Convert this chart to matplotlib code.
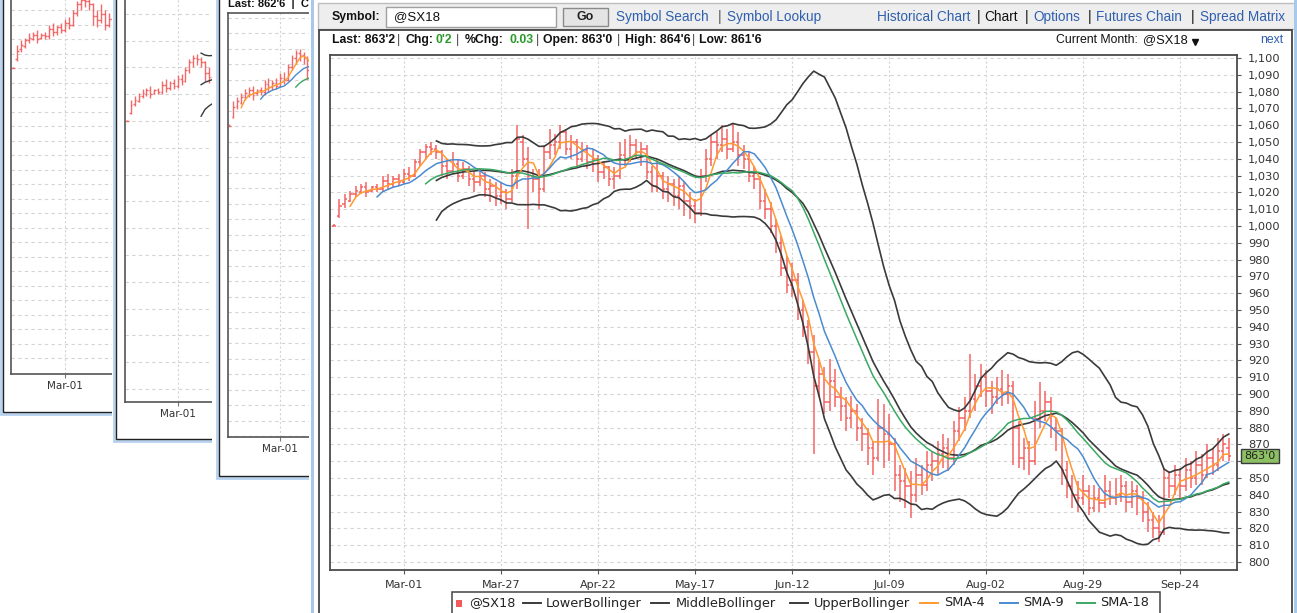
import matplotlib
matplotlib.use("Agg")
import matplotlib.pyplot as plt
from matplotlib.patches import Rectangle, Circle
import numpy as np
import pandas as pd

# ---------------- data ----------------
tick_labels = ["Mar-01", "Mar-27", "Apr-22", "May-17", "Jun-12",
               "Jul-09", "Aug-02", "Aug-29", "Sep-24"]
tick_bars = [13, 31, 49, 67, 85, 103, 121, 139, 157]

opens = [
    1000, 1006, 1013, 1015, 1019, 1020, 1023, 1021, 1023, 1022,
    1027, 1025, 1028, 1026, 1031, 1030, 1038, 1044, 1047, 1046,
    1044, 1036, 1033, 1037, 1030, 1034, 1028, 1026, 1030, 1022,
    1024, 1018, 1020, 1016, 1030, 1050, 1040, 1030, 1028, 1022,
    1044, 1048, 1050, 1056, 1046, 1050, 1040, 1045, 1038, 1040,
    1032, 1035, 1028, 1030, 1042, 1040, 1048, 1044, 1046, 1032,
    1024, 1030, 1022, 1025, 1018, 1024, 1015, 1012, 1008, 1030,
    1040, 1050, 1048, 1052, 1046, 1050, 1042, 1040, 1030, 1028,
    1015, 1010, 1000, 990, 975, 965, 968, 950, 940, 925,
    905, 912, 895, 908, 898, 893, 886, 890, 880, 876,
    868, 862, 880, 876, 870, 852, 848, 845, 840, 852,
    846, 858, 860, 864, 868, 862, 878, 886, 890, 897,
    905, 910, 902, 898, 903, 900, 905, 880, 862, 868,
    860, 885, 890, 895, 880, 878, 855, 845, 840, 838,
    842, 832, 838, 835, 842, 838, 840, 845, 836, 842,
    838, 830, 825, 820, 818, 850, 845, 852, 845, 855,
    850, 858, 852, 862, 858, 866, 868]
highs = [
    1001, 1016, 1019, 1021, 1024, 1025, 1026, 1024, 1025, 1030,
    1031, 1030, 1031, 1034, 1035, 1040, 1046, 1049, 1050, 1048,
    1045, 1040, 1044, 1040, 1038, 1036, 1032, 1034, 1032, 1028,
    1026, 1026, 1022, 1034, 1060, 1054, 1047, 1034, 1034, 1048,
    1058, 1055, 1060, 1058, 1054, 1052, 1050, 1048, 1046, 1042,
    1038, 1036, 1035, 1050, 1052, 1054, 1052, 1050, 1048, 1036,
    1040, 1032, 1030, 1028, 1030, 1026, 1020, 1016, 1034, 1046,
    1054, 1056, 1060, 1058, 1061, 1056, 1048, 1044, 1036, 1030,
    1022, 1014, 1004, 994, 982, 978, 972, 956, 944, 935,
    920, 916, 921, 915, 904, 898, 899, 894, 886, 880,
    872, 897, 894, 888, 874, 858, 856, 854, 862, 858,
    866, 866, 872, 876, 874, 884, 892, 898, 924, 912,
    918, 914, 908, 910, 914, 912, 908, 884, 874, 872,
    896, 907, 902, 898, 886, 880, 860, 852, 848, 852,
    846, 846, 844, 852, 848, 850, 852, 848, 848, 846,
    842, 836, 830, 828, 856, 854, 858, 856, 862, 860,
    866, 864, 870, 868, 874, 876, 874]
lows = [
    1000, 1005, 1011, 1014, 1017, 1019, 1017, 1020, 1020, 1020,
    1022, 1023, 1024, 1025, 1027, 1029, 1036, 1040, 1042, 1040,
    1030, 1028, 1031, 1026, 1028, 1024, 1020, 1024, 1017, 1014,
    1012, 1013, 1010, 1014, 1022, 1036, 998, 1020, 1010, 1020,
    1040, 1042, 1046, 1042, 1040, 1036, 1038, 1034, 1032, 1026,
    1028, 1024, 1022, 1028, 1036, 1038, 1040, 1036, 1028, 1020,
    1020, 1016, 1014, 1012, 1010, 1006, 1004, 1002, 1006, 1026,
    1036, 1040, 1044, 1040, 1044, 1036, 1034, 1026, 1022, 1010,
    1004, 996, 984, 970, 960, 958, 944, 934, 918, 864,
    898, 888, 890, 892, 884, 878, 880, 872, 866, 858,
    852, 860, 856, 860, 842, 836, 832, 826, 836, 840,
    842, 848, 852, 856, 854, 858, 872, 878, 886, 890,
    898, 892, 888, 894, 893, 894, 858, 856, 855, 852,
    858, 880, 884, 874, 866, 846, 838, 832, 830, 834,
    828, 830, 830, 832, 834, 834, 836, 830, 832, 828,
    824, 818, 814, 812, 816, 838, 840, 838, 842, 844,
    846, 846, 850, 852, 854, 860, 860]
closes = [
    1000, 1012, 1016, 1019, 1021, 1023, 1020, 1023, 1022, 1027,
    1025, 1028, 1026, 1031, 1030, 1038, 1044, 1047, 1046, 1044,
    1036, 1033, 1037, 1030, 1034, 1028, 1026, 1030, 1022, 1024,
    1018, 1020, 1016, 1030, 1052, 1040, 1030, 1028, 1022, 1044,
    1048, 1050, 1056, 1046, 1050, 1040, 1045, 1038, 1040, 1032,
    1035, 1028, 1030, 1042, 1040, 1048, 1044, 1046, 1032, 1024,
    1030, 1022, 1025, 1018, 1024, 1015, 1012, 1008, 1030, 1040,
    1050, 1048, 1052, 1046, 1050, 1042, 1040, 1030, 1028, 1015,
    1010, 1000, 990, 975, 965, 968, 950, 940, 925, 905,
    912, 895, 908, 898, 893, 886, 890, 880, 876, 868,
    862, 880, 876, 870, 852, 848, 845, 840, 852, 846,
    858, 860, 864, 868, 862, 878, 886, 890, 897, 905,
    910, 902, 898, 903, 900, 905, 880, 862, 868, 860,
    885, 890, 895, 880, 878, 855, 845, 840, 838, 842,
    832, 838, 835, 842, 838, 840, 845, 836, 842, 838,
    830, 825, 820, 818, 850, 845, 852, 845, 855, 850,
    858, 852, 862, 858, 866, 870, 863]

last_price_label = "863'0"
last_price_value = 863
sma_periods = [4, 9, 18]
boll_period = 20

# ---------------- indicators ----------------
O = np.array(opens, float); Hh = np.array(highs, float)
L = np.array(lows, float); C = np.array(closes, float)
idx = np.arange(len(C))
cs = pd.Series(C)
sma = {p: cs.rolling(p).mean().values for p in sma_periods}
mid = cs.rolling(boll_period).mean()
sd = cs.rolling(boll_period).std(ddof=0)
upper = (mid + 2 * sd).values
lower = (mid - 2 * sd).values
mid = mid.values

BAR = "#f35a5a"
BOLL = "#3a3a3a"
COL = {4: "#ff9a30", 9: "#4a8bd0", 18: "#3aa862"}
GRID = "#d4d4d4"
LINK = "#2f5fae"

W, Hpx = 1297, 613
fig = plt.figure(figsize=(W / 100, Hpx / 100), dpi=100)
fig.patch.set_facecolor("white")


def fbox(x0, y0, x1, y1):
    return [x0 / W, 1 - y1 / Hpx, (x1 - x0) / W, (y1 - y0) / Hpx]


def make_panel(x0, y0, x1, y1, z):
    a = fig.add_axes(fbox(x0, y0, x1, y1), zorder=z)
    a.set_xlim(x0, x1)
    a.set_ylim(y1, y0)
    a.set_xticks([]); a.set_yticks([])
    for s in a.spines.values():
        s.set_visible(False)
    a.set_facecolor("white")
    return a


def draw_bars(ax, n, tick=0.42, lw=1.1):
    i = idx[:n]
    ax.vlines(i, L[:n], Hh[:n], color=BAR, lw=lw, alpha=0.9)
    ax.hlines(O[:n], i - tick, i, color=BAR, lw=lw, alpha=0.9)
    ax.hlines(C[:n], i, i + tick, color=BAR, lw=lw, alpha=0.9)


def bg_chart(l, t, r, b, x0px, pxbar, y0px, pxunit, z, nbars, gstep,
             lines, top_spine=False):
    ax = fig.add_axes(fbox(l, t, r, b), zorder=z)
    ax.set_xlim((l - x0px) / pxbar, (r - x0px) / pxbar)
    vlo = 1000 - (b - y0px) / pxunit
    vhi = 1000 + (y0px - t) / pxunit
    ax.set_ylim(vlo, vhi)
    ax.set_facecolor("white")
    ax.spines["right"].set_visible(False)
    ax.spines["top"].set_visible(top_spine)
    for s in ["left", "bottom", "top"]:
        ax.spines[s].set_color("#555555")
        ax.spines[s].set_linewidth(1.2)
    for v in np.arange(800, 1100, gstep):
        ax.axhline(v, color=GRID, lw=0.8, ls=(0, (3, 3)), zorder=0)
    for tb in tick_bars:
        ax.axvline(tb, color=GRID, lw=0.8, ls=(0, (2, 2)), zorder=0)
    draw_bars(ax, nbars, tick=0.4, lw=1.0)
    if lines == "boll":
        for arr in (upper, mid, lower):
            ax.plot(idx[:nbars], arr[:nbars], color=BOLL, lw=1.0)
    elif lines == "sma":
        for p in sma_periods:
            ax.plot(idx[:nbars], sma[p][:nbars], color=COL[p], lw=1.0)
    ax.set_xticks(tick_bars[:1])
    ax.set_xticklabels(tick_labels[:1], fontsize=7.5, color="#333333",
                       family="DejaVu Sans")
    ax.tick_params(axis="x", length=3, pad=2, color="#777777")
    ax.set_yticks([])
    return ax


def frame(p, left, bottom):
    p.add_patch(Rectangle((left - 2, -20), 1400, bottom + 22, fill=False,
                          ec="#b7d1ee", lw=2.0))
    p.add_patch(Rectangle((left, -20), 1400, bottom + 20, fill=False,
                          ec="#222222", lw=1.0))


# ---------------- background windows ----------------
p1 = make_panel(0, 0, 140, 418, 1)
frame(p1, 3, 412)
bg_chart(11, -60, 300, 374, 13, 4.0, 68, 1.45, 2, 26, 10, None)

p2 = make_panel(112, 0, 240, 444, 3)
frame(p2, 116, 439)
p2.add_patch(Circle((141, -4), 10, fill=False, ec="#f4c3b4", lw=2))
bg_chart(125, -60, 400, 402, 127, 3.9, 121, 1.34, 4, 24, 20, "boll")

p3 = make_panel(212, 0, 330, 481, 5)
frame(p3, 219, 476)
p3.text(228, 4, "Last: 862'6  |  Chg", fontsize=8, fontweight="bold",
        family="Liberation Sans", va="center", ha="left", color="#111111")
a3 = bg_chart(228, 13, 500, 437, 229.5, 3.9, 126, 1.55, 6, 23, 10, "sma",
              top_spine=True)

# ---------------- main window ----------------
pm = make_panel(309, 0, W, Hpx, 7)
pm.add_patch(Rectangle((310.5, -2), 3.5, 620, color="#a9c9ea", lw=0))
pm.add_patch(Rectangle((318, 3), 980, 26, fc="#eeeeee", ec="#bdbdbd", lw=1))
pm.add_patch(Rectangle((319, 29.5), 973, 600, fc="white", ec="#444444", lw=1.3))
pm.add_patch(Rectangle((1293.5, -2), 4, 620, color="#a9c9ea", lw=0))

tf = dict(family="Liberation Sans", va="center", ha="left")
pm.text(332, 17, "Symbol:", fontsize=8.8, fontweight="bold", color="#111111", **tf)
pm.add_patch(Rectangle((386, 7), 170, 20, fc="white", ec="#a0a0a0", lw=1))
pm.text(394, 17, "@SX18", fontsize=9.5, color="#111111", **tf)
pm.add_patch(Rectangle((563, 8), 45, 18, fc="#e4e4e4", ec="#8a8a8a", lw=1))
pm.text(585.5, 17, "Go", fontsize=9, fontweight="bold", color="#222222",
        family="Liberation Sans", va="center", ha="center")
links = [("Symbol Search", 616, LINK), ("|", 718, "#555555"),
         ("Symbol Lookup", 727, LINK), ("Historical Chart", 877, LINK),
         ("|", 977, "#111111"), ("Chart", 984, "#111111"),
         ("|", 1025, "#111111"), ("Options", 1033, LINK),
         ("|", 1088, "#111111"), ("Futures Chain", 1096, LINK),
         ("|", 1191, "#111111"), ("Spread Matrix", 1200, LINK)]
for t, x, c in links:
    pm.text(x, 17, t, fontsize=9.8, color=c, **tf)

info = [("Last: 863'2", 332, "#111111", "bold"), ("|", 397, "#444444", "normal"),
        ("Chg:", 406, "#111111", "bold"), ("0'2", 435, "#2a9a2a", "bold"),
        ("|", 456, "#444444", "normal"), ("%Chg:", 465, "#111111", "bold"),
        ("0.03", 509, "#2a9a2a", "bold"), ("|", 536, "#444444", "normal"),
        ("Open: 863'0", 543, "#111111", "bold"), ("|", 617, "#444444", "normal"),
        ("High: 864'6", 625, "#111111", "bold"), ("|", 692, "#444444", "normal"),
        ("Low: 861'6", 699, "#111111", "bold")]
for t, x, c, w in info:
    pm.text(x, 40, t, fontsize=8.8, color=c, fontweight=w, **tf)
pm.text(1056, 40, "Current Month:", fontsize=8.8, color="#111111", **tf)
pm.text(1143, 40, "@SX18", fontsize=9.3, color="#111111", **tf)
pm.plot([1195], [42], marker="v", ms=5, color="#111111")
pm.text(1260, 40, "next", fontsize=8.8, color=LINK, **tf)

# dtn logo
pm.add_patch(Circle((352, 72), 13, fill=False, ec="#f6c2b2", lw=2.2))
pm.text(352, 72, "dtn", fontsize=8, color="#f2a890", ha="center", va="center",
        family="DejaVu Sans", fontweight="bold")

# last price box
ylast = 226 - (last_price_value - 1000) * 1.68
pm.add_patch(Rectangle((1241, ylast - 7), 38, 14, fc="#8cc063", ec="#3a3a3a", lw=1))
pm.text(1260, ylast, last_price_label, fontsize=8, ha="center", va="center",
        color="#222222", family="DejaVu Sans")

# legend
pm.add_patch(Rectangle((452, 592), 708, 30, fc="white", ec="#444444", lw=1.1))
ly = 603
pm.add_patch(Rectangle((456, ly - 3.5), 6, 7, color=BAR, lw=0))
lg = [("@SX18", 469, None, None), ("LowerBollinger", 546, BOLL, 523),
      ("MiddleBollinger", 676, BOLL, 651), ("UpperBollinger", 814, BOLL, 790),
      ("SMA-4", 944, COL[4], 920), ("SMA-9", 1023, COL[9], 1000),
      ("SMA-18", 1100, COL[18], 1077)]
for t, x, c, dx in lg:
    if c is not None:
        pm.plot([dx, dx + 18], [ly, ly], color=c, lw=1.4)
    pm.text(x, ly, t, fontsize=9.3, color="#222222", family="DejaVu Sans",
            va="center", ha="left")

# ---------------- main chart ----------------
ax = fig.add_axes(fbox(330, 55, 1237, 570), zorder=8)
x0px, pxbar = 334, 5.39
ax.set_xlim((330 - x0px) / pxbar, (1237 - x0px) / pxbar)
ax.set_ylim(1000 - (570 - 226) / 1.68, 1000 + (226 - 55) / 1.68)
ax.set_facecolor("white")
for s in ax.spines.values():
    s.set_color("#4a4a4a")
    s.set_linewidth(1.3)
for v in range(800, 1101, 10):
    ax.axhline(v, color=GRID, lw=0.8, ls=(0, (3, 3)), zorder=0)
for tb in tick_bars:
    ax.axvline(tb, color=GRID, lw=0.8, ls=(0, (2, 2)), zorder=0)

draw_bars(ax, len(C), tick=0.45, lw=1.15)
ax.plot(idx, lower, color=BOLL, lw=1.2, zorder=3)
ax.plot(idx, mid, color=BOLL, lw=1.2, zorder=3)
ax.plot(idx, upper, color=BOLL, lw=1.2, zorder=3)
for p in sma_periods:
    ax.plot(idx, sma[p], color=COL[p], lw=1.1, zorder=4)

ax.yaxis.tick_right()
yt = list(range(800, 1101, 10))
ax.set_yticks(yt)
# the label hidden under the last-price box is left blank
ax.set_yticklabels(["" if abs(v - last_price_value) < 5 else f"{v:,}" for v in yt],
                   fontsize=8.2, color="#333333", family="DejaVu Sans")
ax.set_xticks(tick_bars)
ax.set_xticklabels(tick_labels, fontsize=8, color="#333333", family="DejaVu Sans")
ax.tick_params(axis="y", length=3, pad=5, color="#555555")
ax.tick_params(axis="x", length=3, pad=4, color="#555555")

fig.savefig("out.png", dpi=100, facecolor="white")
